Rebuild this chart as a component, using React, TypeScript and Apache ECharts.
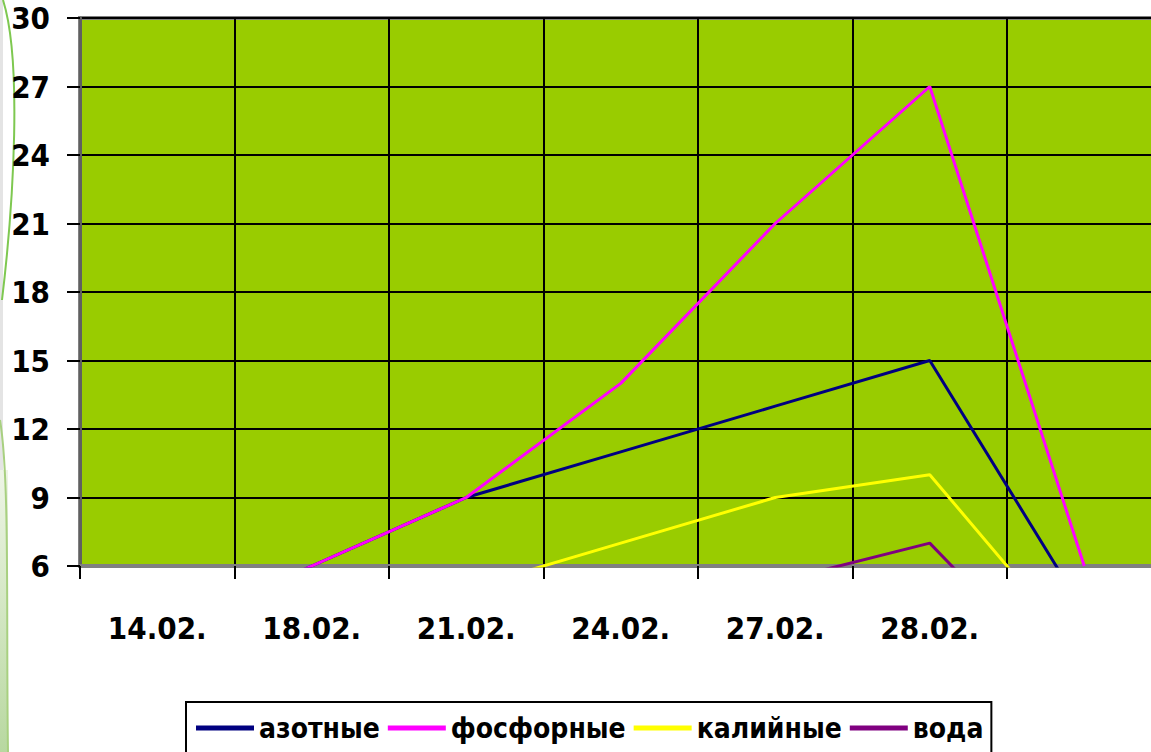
import React, { useEffect, useRef } from "react";
import * as echarts from "echarts";

const categories = ["14.02.", "18.02.", "21.02.", "24.02.", "27.02.", "28.02.", ""];
const azotnye = [3, 6, 9, 11, 13, 15, 4];
const fosfornye = [3, 6, 9, 14, 21, 27, 6];
const kaliynye = [2, 3, 5, 7, 9, 10, 2];
const voda = [1, 2, 3, 4, 5.3, 7, 0];
const seriesNames = ["азотные", "фосфорные", "калийные", "вода"];
const seriesColors = ["#000080", "#FF00FF", "#FFFF00", "#800080"];

const FONT = '"DejaVu Sans Condensed", "Open Sans", sans-serif';

export default function App() {
  const ref = useRef<HTMLDivElement>(null);
  useEffect(() => {
    if (!ref.current) return;
    const chart = echarts.init(ref.current, null, { renderer: "svg" });
    const data = [azotnye, fosfornye, kaliynye, voda];
    chart.setOption({
      animation: false,
      backgroundColor: "#ffffff",
      grid: {
        left: 80,
        top: 18,
        width: 1081.5,
        height: 548,
        show: true,
        backgroundColor: "#99CC00",
        borderColor: "#808080",
        borderWidth: 4,
      },
      xAxis: {
        type: "category",
        data: categories,
        boundaryGap: true,
        axisLine: { show: true, lineStyle: { color: "#808080", width: 4 } },
        axisTick: { show: true, length: 13, lineStyle: { color: "#000", width: 2 } },
        splitLine: { show: true, lineStyle: { color: "#000", width: 2 } },
        axisLabel: {
          margin: 46,
          fontFamily: FONT,
          fontWeight: "bold",
          fontSize: 31,
          color: "#000",
        },
      },
      yAxis: {
        type: "value",
        min: 6,
        max: 30,
        interval: 3,
        axisLine: { show: true, lineStyle: { color: "#606060", width: 3 } },
        axisTick: { show: true, length: 13, lineStyle: { color: "#000", width: 2 } },
        splitLine: { show: true, lineStyle: { color: "#000", width: 2 } },
        axisLabel: {
          margin: 30,
          fontFamily: FONT,
          fontWeight: "bold",
          fontSize: 31,
          color: "#000",
        },
      },
      legend: {
        left: 186,
        top: 702,
        icon: "rect",
        itemWidth: 58,
        itemHeight: 5,
        itemGap: 8,
        padding: [12, 8, 20, 10],
        borderColor: "#000",
        borderWidth: 2,
        backgroundColor: "#fff",
        textStyle: { fontFamily: FONT, fontWeight: "bold", fontSize: 28, color: "#000" },
        data: seriesNames,
      },
      graphic: [
        { type: "rect", shape: { x: 0, y: 0, width: 3, height: 470 }, style: { fill: "#e4e4e4" } },
        {
          type: "rect",
          shape: { x: 0, y: 470, width: 8, height: 282 },
          style: {
            fill: new echarts.graphic.LinearGradient(0, 0, 0, 1, [
              { offset: 0, color: "#eef5e6" },
              { offset: 1, color: "#b8d8a0" },
            ]),
          },
        },
        {
          type: "bezierCurve",
          shape: { x1: 3, y1: 0, x2: 2, y2: 300, cpx1: 22, cpy1: 60, cpx2: 14, cpy2: 200 },
          style: { stroke: "#7ec850", lineWidth: 2, fill: "none" },
        },
        {
          type: "bezierCurve",
          shape: { x1: 0, y1: 420, x2: 8, y2: 752, cpx1: 10, cpy1: 480, cpx2: 6, cpy2: 620 },
          style: { stroke: "#a8d080", lineWidth: 2, fill: "none" },
        },
      ],
      series: data.map((d, i) => ({
        name: seriesNames[i],
        type: "line",
        data: d,
        symbol: "none",
        showSymbol: false,
        clip: true,
        lineStyle: { color: seriesColors[i], width: 3 },
        itemStyle: { color: seriesColors[i] },
      })),
    });
    return () => chart.dispose();
  }, []);
  return (
    <div style={{ position: "fixed", left: 0, top: 0, width: 1151, height: 752, overflow: "hidden", background: "#fff" }}>
      <div ref={ref} style={{ width: 1200, height: 752 }} />
    </div>
  );
}
